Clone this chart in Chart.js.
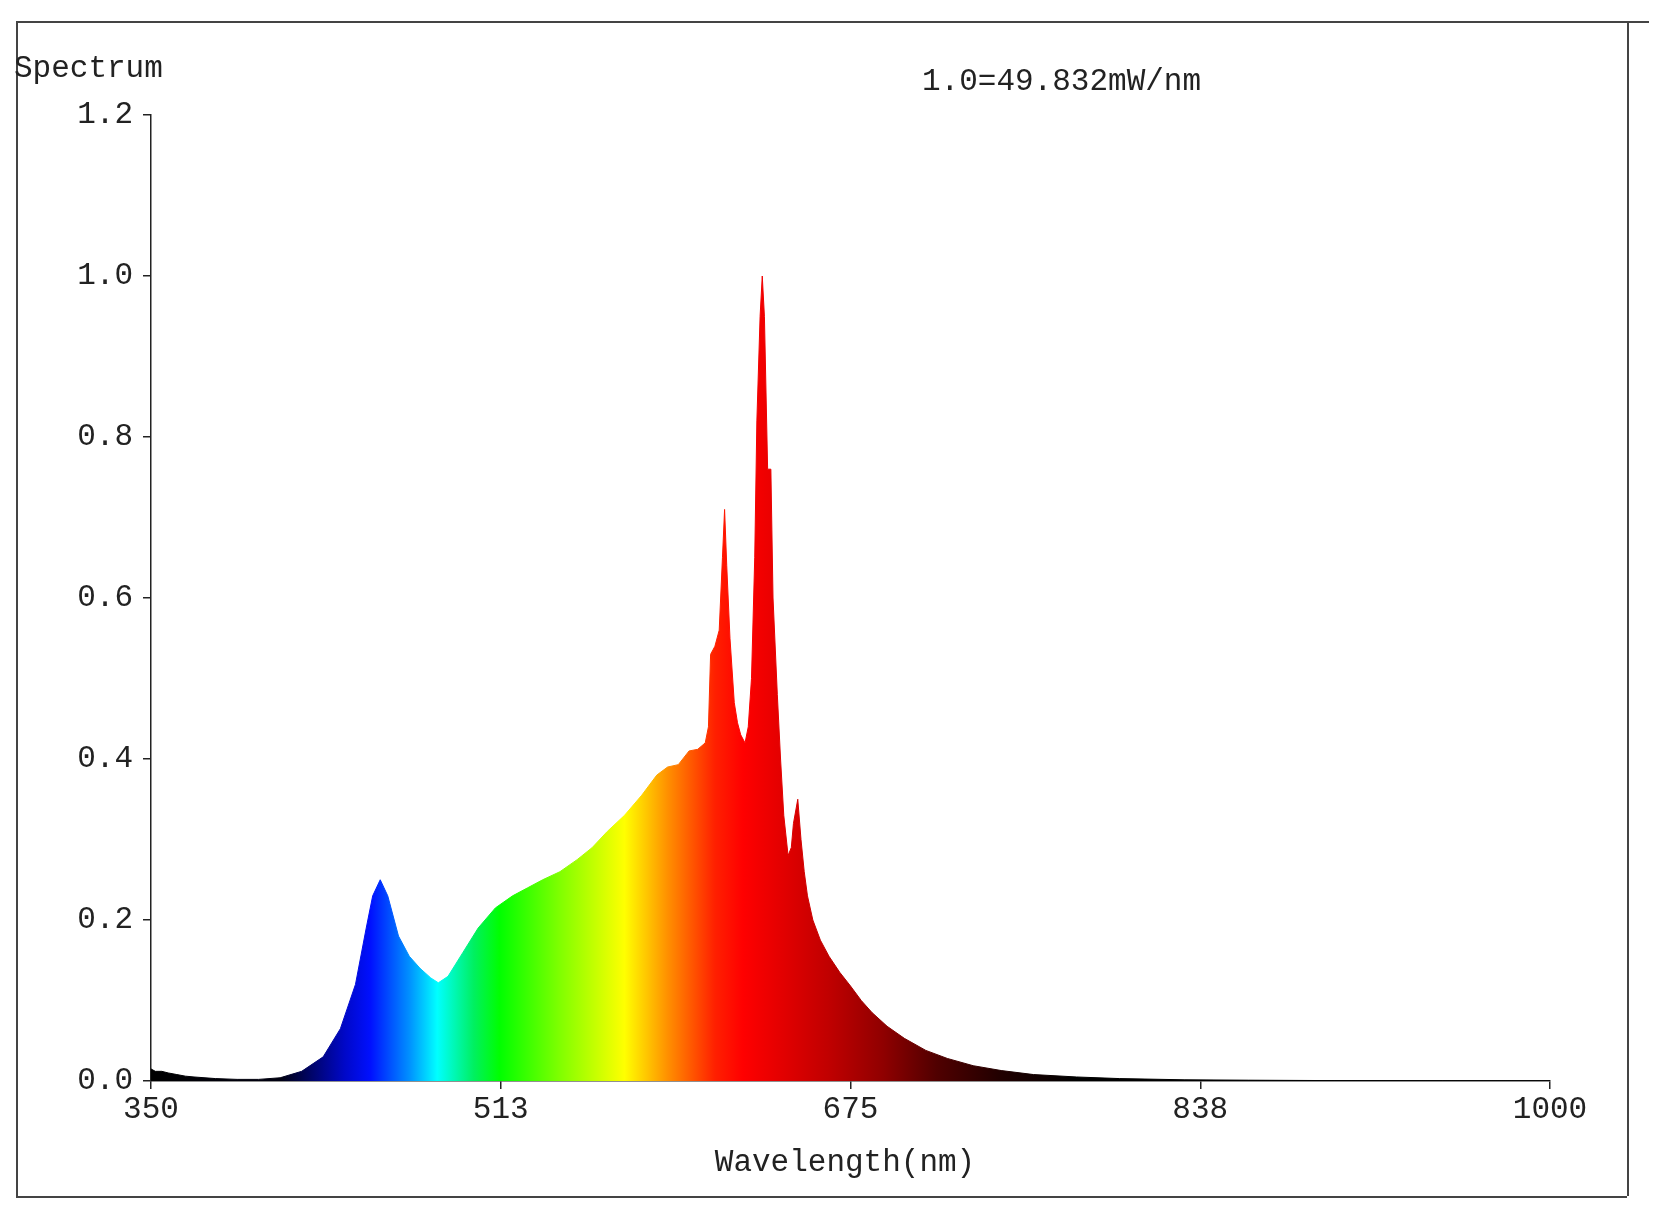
<!DOCTYPE html>
<html><head><meta charset="utf-8">
<script src="https://cdn.jsdelivr.net/npm/chart.js@4"></script>
<style>
html,body{margin:0;padding:0;background:#fff;}
#wrap{position:absolute;left:0;top:0;width:1668px;height:1228px;}
#frame{position:absolute;left:16px;top:21px;width:1609px;height:1173px;border:2px solid #444;border-right:none;}
#rline{position:absolute;left:1627px;top:21px;width:2px;height:1175px;background:#444;}
#tline{position:absolute;left:1627px;top:21px;width:22px;height:2px;background:#444;}
canvas{position:absolute;left:0;top:0;}
</style></head>
<body><div id="wrap"><div id="frame"></div><div id="rline"></div><div id="tline"></div>
<canvas id="c" width="1668" height="1228"></canvas></div>
<script>
const wavelengths = [350,352,355,358,362,366,370,380,390,400,410,420,430,438,445,450,453,456.5,460,465,470,475,480,483.5,488,495,502,510,518,525,532,540,548,555,562,570,578,585,590,595,600,604,607.5,609,610,612,614,615.5,616.5,617.5,619,621,622.5,624,626,627.5,629,630.5,631.5,633,634,635,636.5,638,639,641,642.5,644,646,647.5,648.5,650.5,652,653.5,655,657.5,661,665,670,675,680,685,692,700,710,720,732,745,760,780,800,830,860,900,950,1000];
const intensity = [0.015,0.012,0.012,0.010,0.008,0.006,0.005,0.003,0.002,0.002,0.004,0.012,0.030,0.065,0.120,0.190,0.230,0.250,0.230,0.180,0.155,0.140,0.128,0.122,0.130,0.160,0.190,0.215,0.230,0.240,0.250,0.260,0.275,0.290,0.310,0.330,0.355,0.380,0.390,0.393,0.410,0.412,0.420,0.440,0.530,0.540,0.560,0.650,0.710,0.640,0.550,0.470,0.445,0.430,0.420,0.440,0.500,0.650,0.820,0.950,1.000,0.950,0.760,0.760,0.600,0.480,0.400,0.330,0.280,0.290,0.320,0.350,0.300,0.260,0.230,0.200,0.175,0.155,0.135,0.118,0.100,0.085,0.068,0.053,0.038,0.028,0.019,0.013,0.008,0.005,0.003,0.0015,0.001,0.0005,0.0003,0.0002];
const xTicks = [350,512.5,675,837.5,1000];
const yTicks = [0,0.2,0.4,0.6,0.8,1.0,1.2];
const colorStops = [[350,'#000000'],[410,'#000010'],[440,'#0008c8'],[452,'#0010ff'],[470,'#0090ff'],[483,'#00ffff'],[500,'#00f060'],[512,'#00ff00'],[540,'#80ff00'],[570,'#ffff00'],[590,'#ff9000'],[612,'#ff2000'],[625,'#ff0000'],[645,'#e00000'],[665,'#c00000'],[690,'#900000'],[715,'#500000'],[745,'#200000'],[780,'#000000'],[1000,'#000000']];

const pts = wavelengths.map((w,i)=>({x:w,y:intensity[i]}));
const FONT = "'Liberation Mono', 'DejaVu Sans Mono', monospace";

function grad(ctx, chart){
  const xs = chart.scales.x, ca = chart.chartArea;
  if(!ca) return '#f00';
  const g = ctx.createLinearGradient(xs.getPixelForValue(350),0,xs.getPixelForValue(1000),0);
  colorStops.forEach(s=>g.addColorStop((s[0]-350)/650,s[1]));
  return g;
}

const textPlugin = {
  id:'texts',
  afterDraw(chart){
    const c = chart.ctx;
    c.save();
    c.fillStyle='#222';
    c.font = '31px '+FONT;
    c.textBaseline='middle';
    c.textAlign='left';
    c.fillText('Spectrum',14,69);
    c.fillText('1.0=49.832mW/nm',922,82);
    c.textAlign='center';
    c.fillText('Wavelength(nm)',845,1163);
    c.restore();
  }
};

new Chart(document.getElementById('c'),{
  type:'line',
  data:{datasets:[{data:pts,fill:'origin',borderWidth:1,tension:0,pointRadius:0,
    borderColor:(ctx)=>grad(ctx.chart.ctx,ctx.chart),
    backgroundColor:(ctx)=>grad(ctx.chart.ctx,ctx.chart)}]},
  options:{
    responsive:false,animation:false,
    layout:{padding:{top:115,right:118,left:0,bottom:0}},
    plugins:{legend:{display:false},tooltip:{enabled:false}},
    scales:{
      x:{type:'linear',min:350,max:1000,
        afterBuildTicks(s){s.ticks=xTicks.map(v=>({value:v}));},
        afterFit(s){s.height=147;},
        grid:{drawOnChartArea:false,color:'#222',tickLength:8,lineWidth:1.5},
        border:{color:'#222',width:1.5},
        ticks:{color:'#222',font:{family:FONT,size:31},padding:2,maxRotation:0,
          callback:v=>String(Math.round(v))}},
      y:{type:'linear',min:0,max:1.2,
        afterBuildTicks(s){s.ticks=yTicks.map(v=>({value:v}));},
        afterFit(s){s.width=151;},
        grid:{drawOnChartArea:false,color:'#222',tickLength:8,lineWidth:1.5},
        border:{color:'#222',width:1.5},
        ticks:{color:'#222',font:{family:FONT,size:31},padding:10,
          callback:v=>v.toFixed(1)}}
    }
  },
  plugins:[textPlugin]
});
</script></body></html>
